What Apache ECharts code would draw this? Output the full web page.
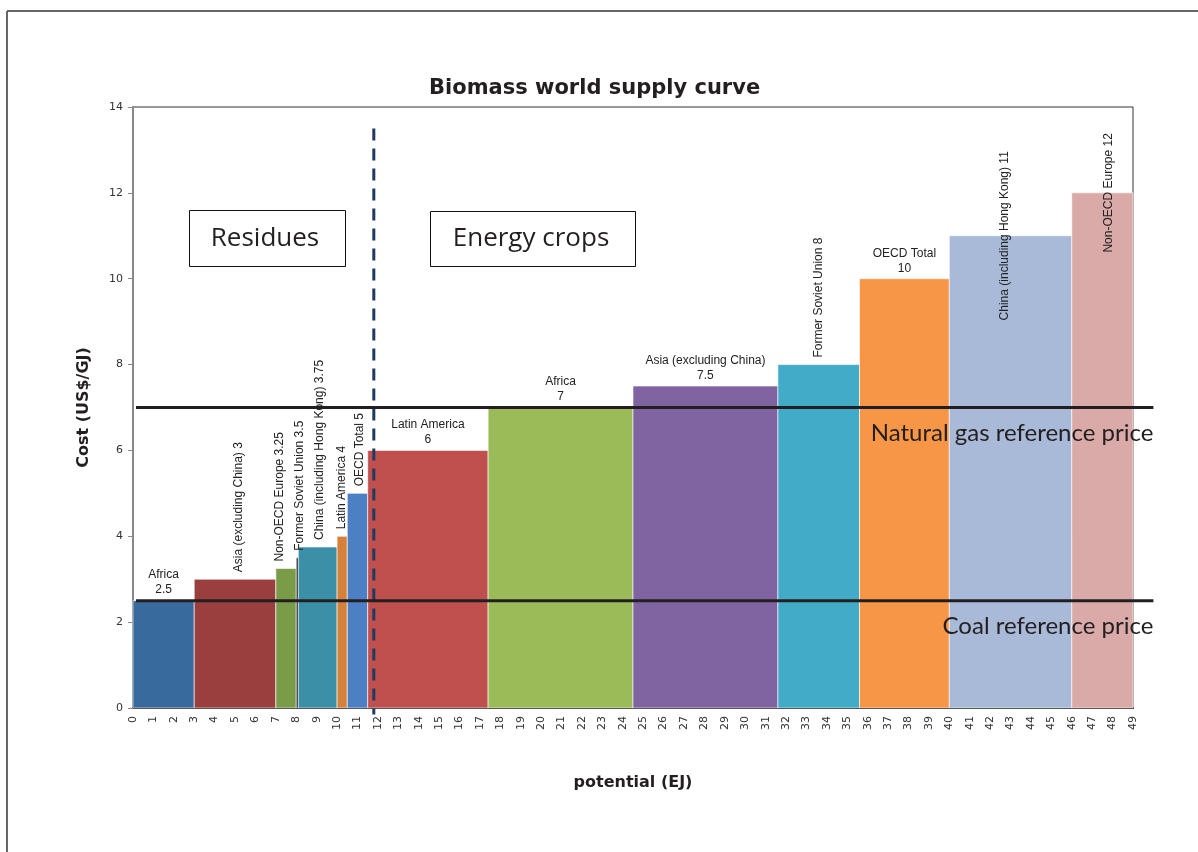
<!DOCTYPE html>
<html><head><meta charset="utf-8">
<script src="https://cdn.jsdelivr.net/npm/echarts@6/dist/echarts.min.js"></script>
<style>html,body{margin:0;padding:0;background:#fff}#c{width:1198px;height:852px}</style>
</head><body><div id="c"></div><script>
// ---- data ----
const residueNames = ['Africa','Asia (excluding China)','Non-OECD Europe','Former Soviet Union','China (including Hong Kong)','Latin America','OECD Total'];
const residuePotential = [3, 4, 1, 0.1, 1.9, 0.5, 1];
const residueCost = [2.5, 3, 3.25, 3.5, 3.75, 4, 5];
const cropNames = ['Latin America','Africa','Asia (excluding China)','Former Soviet Union','OECD Total','China (including Hong Kong)','Non-OECD Europe'];
const cropPotential = [5.9, 7.1, 7.1, 4.0, 4.4, 6, 3];
const cropCost = [6, 7, 7.5, 8, 10, 11, 12];
const refNames = ['Natural gas reference price', 'Coal reference price'];
const refCost = [7, 2.5];
const dividerPotential = 11.8;
const xTickMin = 0, xTickMax = 49, xTickStep = 1;
const yTickMin = 0, yTickMax = 14, yTickStep = 2;

// ---- styles ----
const residueColors = ['#386a9d','#9b3f3e','#7a9b48','#1a1a1a','#3b8fa6','#d6813a','#4c7fc4'];
const cropColors = ['#c0504d','#9bbb59','#8064a2','#42abc7','#f79646','#a9b9d8','#d9aaa8'];
const residueLabelMode = ['h','v','v','v','v','v','v'];
const cropLabelMode = ['h','h','h','v','h','c','c'];
const residueLabelShift = [0, 4, -6, 2, 2, 0, 2];
const cropLabelShift = [0, 0, 0, 0, 0, -6, 6];

function buildBars(names, potential, cost, start, colors, modes, shifts) {
  let x = start;
  return names.map((n, i) => {
    const s = x; x += potential[i];
    return { value: [s, x, cost[i]], name: n, itemColor: colors[i], mode: modes[i], shift: shifts[i] };
  });
}
const residueTotal = residuePotential.reduce((a, b) => a + b, 0);
const bars = buildBars(residueNames, residuePotential, residueCost, 0, residueColors, residueLabelMode, residueLabelShift)
  .concat(buildBars(cropNames, cropPotential, cropCost, residueTotal, cropColors, cropLabelMode, cropLabelShift));

const labelFont = '12px "Liberation Sans", Arial, sans-serif';

function renderBar(params, api) {
  const d = bars[params.dataIndex];
  const p0 = api.coord([api.value(0), api.value(2)]);
  const p1 = api.coord([api.value(1), 0]);
  return {
    type: 'rect',
    shape: { x: p0[0], y: p0[1], width: p1[0] - p0[0], height: p1[1] - p0[1] },
    style: { fill: d.itemColor, stroke: 'rgba(255,255,255,0.6)', lineWidth: 1 }
  };
}
function renderLabel(params, api) {
  const d = bars[params.dataIndex];
  const p0 = api.coord([api.value(0), api.value(2)]);
  const p1 = api.coord([api.value(1), 0]);
  const cx = (p0[0] + p1[0]) / 2 + d.shift;
  const cost = api.value(2);
  if (d.mode === 'h') {
    return { type: 'text', x: cx, y: p0[1] - 3,
      style: { text: d.name + '\n' + cost, textAlign: 'center', align: 'center', textVerticalAlign: 'bottom', verticalAlign: 'bottom', font: labelFont, fill: '#222', lineHeight: 15 } };
  }
  const centered = d.mode === 'c';
  return { type: 'text', x: cx, y: centered ? p0[1] : p0[1] - 7, rotation: Math.PI / 2,
    style: { text: d.name + ' ' + cost, textAlign: centered ? 'center' : 'left', align: centered ? 'center' : 'left',
      textVerticalAlign: 'middle', verticalAlign: 'middle', font: labelFont, fill: '#222' } };
}
function renderRef(params, api) {
  const a = api.coord([api.value(0), api.value(2)]);
  const b = api.coord([api.value(1), api.value(2)]);
  return { type: 'group', children: [
    { type: 'line', shape: { x1: a[0] + 3, y1: a[1], x2: b[0], y2: b[1] }, style: { stroke: '#231f20', lineWidth: 3 } },
    { type: 'text', x: b[0], y: b[1] + 26,
      style: { text: refNames[params.dataIndex], textAlign: 'right', align: 'right', textVerticalAlign: 'middle', verticalAlign: 'middle',
        font: '24px Lato, "Open Sans", sans-serif', fill: '#231f20' } }
  ]};
}
function renderDivider(params, api) {
  const a = api.coord([api.value(0), api.value(1)]);
  const b = api.coord([api.value(0), api.value(2)]);
  return { type: 'line', shape: { x1: a[0], y1: a[1], x2: b[0], y2: b[1] },
    style: { stroke: '#1f3a60', lineWidth: 3, lineDash: [12, 8] } };
}

const chart = echarts.init(document.getElementById('c'), null, { renderer: 'canvas' });
chart.setOption({
  animation: false,
  backgroundColor: '#fff',
  title: { text: 'Biomass world supply curve', left: 424, top: 73,
    textStyle: { fontFamily: '"DejaVu Sans", sans-serif', fontWeight: 'bold', fontSize: 21, color: '#231f20' } },
  grid: { left: 133, right: 65, top: 107, bottom: 144, show: true, borderColor: '#333', borderWidth: 1, backgroundColor: 'transparent' },
  xAxis: { type: 'value', min: xTickMin, max: xTickMax, interval: xTickStep,
    name: 'potential (EJ)', nameLocation: 'middle', nameGap: 67,
    nameTextStyle: { fontFamily: '"DejaVu Sans", sans-serif', fontWeight: 'bold', fontSize: 16, color: '#231f20' },
    axisLine: { show: true, lineStyle: { color: '#111', width: 2 } },
    axisTick: { show: false }, splitLine: { show: false },
    axisLabel: { rotate: 90, margin: 8, fontFamily: '"DejaVu Sans", sans-serif', fontSize: 11, color: '#333' } },
  yAxis: { type: 'value', min: yTickMin, max: yTickMax, interval: yTickStep,
    name: 'Cost (US$/GJ)', nameLocation: 'middle', nameGap: 41, nameRotate: 90,
    nameTextStyle: { fontFamily: '"DejaVu Sans", sans-serif', fontWeight: 'bold', fontSize: 16, color: '#231f20' },
    axisLine: { show: true, lineStyle: { color: '#888', width: 2 } },
    axisTick: { show: true, length: 5, lineStyle: { color: '#888' } },
    splitLine: { show: false },
    axisLabel: { margin: 10, fontFamily: '"DejaVu Sans", sans-serif', fontSize: 11, color: '#333' } },
  graphic: [
    { type: 'line', shape: { x1: 7, y1: 11, x2: 1198, y2: 11 }, style: { stroke: '#666', lineWidth: 2 } },
    { type: 'line', shape: { x1: 7, y1: 11, x2: 7, y2: 852 }, style: { stroke: '#666', lineWidth: 2 } },
    { type: 'group', left: 189, top: 210, children: [
      { type: 'rect', shape: { x: 0.5, y: 0.5, width: 156, height: 56 }, style: { fill: '#fff', stroke: '#111', lineWidth: 1 } },
      { type: 'text', x: 76, y: 29, style: { text: 'Residues', textAlign: 'center', align: 'center', textVerticalAlign: 'middle', verticalAlign: 'middle', font: '26px "Open Sans", sans-serif', fill: '#231f20' } }
    ]},
    { type: 'group', left: 430, top: 211, children: [
      { type: 'rect', shape: { x: 0.5, y: 0.5, width: 205, height: 55 }, style: { fill: '#fff', stroke: '#111', lineWidth: 1 } },
      { type: 'text', x: 101, y: 28, style: { text: 'Energy crops', textAlign: 'center', align: 'center', textVerticalAlign: 'middle', verticalAlign: 'middle', font: '26px "Open Sans", sans-serif', fill: '#231f20' } }
    ]}
  ],
  series: [
    { type: 'custom', renderItem: renderBar, data: bars.map(b => b.value), z: 2 },
    { type: 'custom', renderItem: renderLabel, data: bars.map(b => b.value), z: 3, silent: true },
    { type: 'custom', renderItem: renderDivider, clip: false, z: 4,
      data: [[dividerPotential, 13.5, -0.15]] },
    { type: 'custom', renderItem: renderRef, clip: false, z: 5,
      data: refCost.map(c => [0, xTickMax + 1, c]) }
  ]
});
</script></body></html>
